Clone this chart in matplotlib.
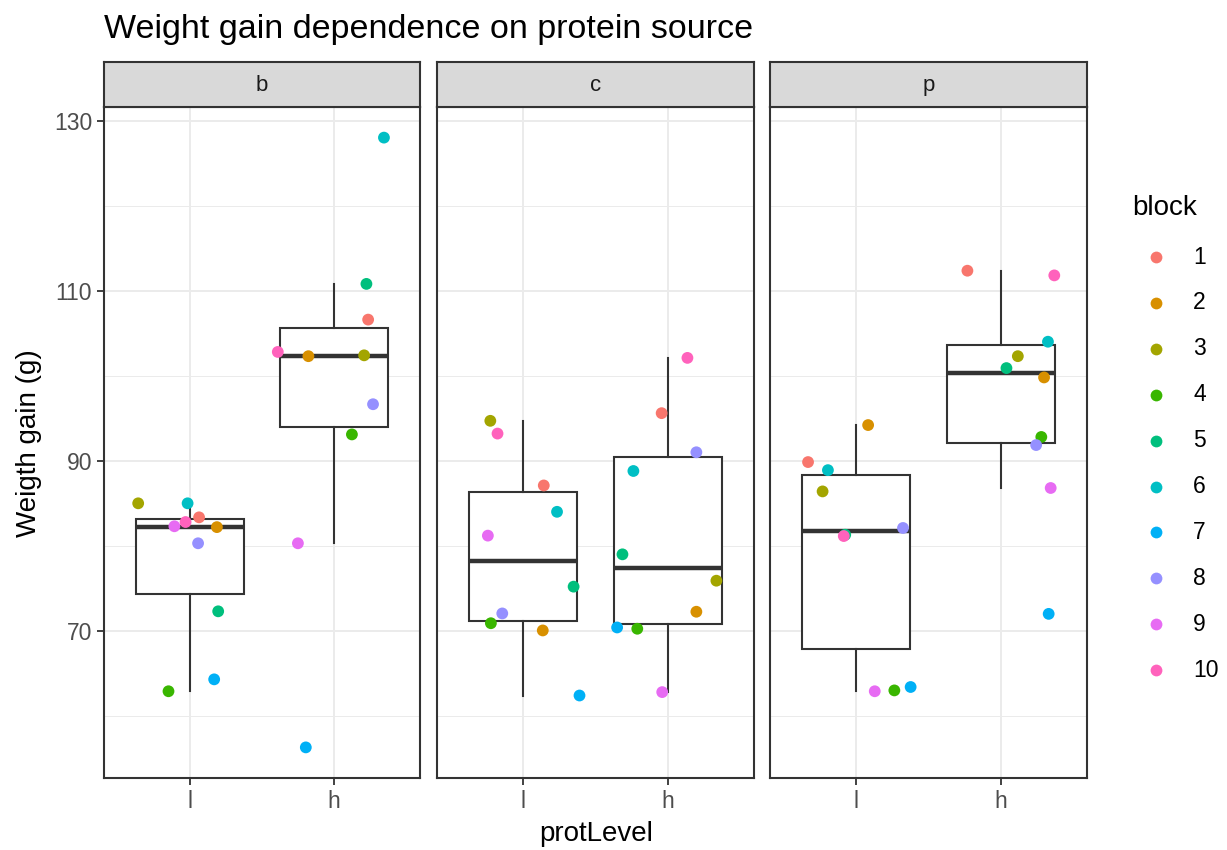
import matplotlib
matplotlib.use('Agg')
import matplotlib.pyplot as plt
import numpy as np

plt.rcParams['font.family'] = ['Liberation Sans', 'DejaVu Sans']

# data, blocks 1..10 in order
sources = ['b', 'c', 'p']
levels = ['l', 'h']
blocks = [str(i) for i in range(1, 11)]
block_colors = ['#F8766D', '#D89000', '#A3A500', '#39B600', '#00BF7D',
                '#00BFC4', '#00B0F6', '#9590FF', '#E76BF3', '#FF62BC']

gain = {
    ('b', 'l'): [83.35, 82.2, 85.0, 62.9, 72.3, 85.0, 64.3, 80.3, 82.3, 82.8],
    ('b', 'h'): [106.6, 102.3, 102.4, 93.1, 110.8, 128.0, 56.3, 96.65, 80.3, 102.8],
    ('c', 'l'): [87.1, 70.05, 94.7, 70.9, 75.2, 84.0, 62.4, 72.05, 81.2, 93.2],
    ('c', 'h'): [95.6, 72.25, 75.9, 70.25, 79.0, 88.8, 70.4, 91.0, 62.8, 102.1],
    ('p', 'l'): [89.85, 94.2, 86.4, 63.0, 81.3, 88.9, 63.4, 82.1, 62.9, 81.15],
    ('p', 'h'): [112.35, 99.8, 102.3, 92.8, 100.9, 104.0, 72.0, 91.85, 86.8, 111.8],
}
# horizontal jitter of each point (as drawn)
jitter = {
    ('b', 'l'): [0.062, 0.186, -0.362, -0.151, 0.195, -0.018, 0.167, 0.055, -0.110, -0.032],
    ('b', 'h'): [0.239, -0.177, 0.211, 0.126, 0.227, 0.349, -0.195, 0.273, -0.250, -0.390],
    ('c', 'l'): [0.141, 0.134, -0.230, -0.226, 0.348, 0.233, 0.389, -0.147, -0.247, -0.180],
    ('c', 'h'): [-0.041, 0.200, 0.339, -0.210, -0.313, -0.237, -0.350, 0.200, -0.037, 0.138],
    ('p', 'l'): [-0.336, 0.081, -0.235, 0.263, -0.078, -0.198, 0.376, 0.323, 0.127, -0.088],
    ('p', 'h'): [-0.230, 0.302, 0.120, 0.283, 0.041, 0.329, 0.334, 0.247, 0.348, 0.373],
}

W, H = 1227, 850
fig = plt.figure(figsize=(W / 100, H / 100), dpi=100)


def frac(x0, y0, x1, y1):
    # pixel box (from top left) -> figure fractions
    return [x0 / W, 1 - y1 / H, (x1 - x0) / W, (y1 - y0) / H]


panel_x = [(104, 420), (437, 754), (770, 1087)]
top, bottom, strip_top = 107, 778, 62
dark = '#333333'

for k, src in enumerate(sources):
    x0, x1 = panel_x[k]
    ax = fig.add_axes(frac(x0, top, x1, bottom))
    ax.set_xlim(0.4, 2.6)
    ax.set_ylim(52.7, 131.6)
    for v in [60, 80, 100, 120]:
        ax.axhline(v, color='#EBEBEB', lw=0.7, zorder=0)
    for v in [70, 90, 110, 130]:
        ax.axhline(v, color='#EBEBEB', lw=1.4, zorder=0)
    for v in [1, 2]:
        ax.axvline(v, color='#EBEBEB', lw=1.4, zorder=0)

    data = [gain[(src, lv)] for lv in levels]
    ax.boxplot(data, positions=[1, 2], widths=0.75, whis=1.5, showfliers=False,
               showcaps=False, patch_artist=True,
               boxprops=dict(facecolor='white', edgecolor=dark, lw=1.5),
               whiskerprops=dict(color=dark, lw=1.5),
               medianprops=dict(color=dark, lw=3.2), zorder=2)

    for i, lv in enumerate(levels):
        xs = np.array(jitter[(src, lv)]) + i + 1
        ax.scatter(xs, gain[(src, lv)], c=block_colors, s=72, zorder=3,
                   linewidths=0)

    ax.set_xticks([1, 2])
    ax.set_xticklabels(levels)
    ax.set_yticks([70, 90, 110, 130])
    if k > 0:
        ax.tick_params(axis='y', left=False, labelleft=False)
    ax.tick_params(colors=dark, labelcolor='#4D4D4D', labelsize=16.5,
                   length=5, width=1.3, pad=3.5)
    for s in ax.spines.values():
        s.set_color(dark)
        s.set_linewidth(1.5)

    sax = fig.add_axes(frac(x0, strip_top, x1, top))
    sax.set_facecolor('#D9D9D9')
    sax.set_xticks([])
    sax.set_yticks([])
    for s in sax.spines.values():
        s.set_color(dark)
        s.set_linewidth(1.5)
    sax.text(0.5, 0.47, src, ha='center', va='center', fontsize=16,
             color='#1A1A1A', transform=sax.transAxes)

fig.text(104 / W, 1 - 38 / H, 'Weight gain dependence on protein source',
         fontsize=24.5, va='baseline', ha='left', color='black')
fig.text(596 / W, 1 - 834 / H, 'protLevel', fontsize=20, ha='center',
         va='center')
fig.text(29 / W, 1 - 443 / H, 'Weigth gain (g)', fontsize=20, ha='center',
         va='center', rotation=90)

# legend drawn in its own axes, in pixel units
lax = fig.add_axes(frac(1100, 170, W, 700))
lax.set_xlim(1100, W)
lax.set_ylim(700, 170)
lax.axis('off')
lax.text(1132, 208, 'block', fontsize=20, ha='left', va='center')
for i, (b, c) in enumerate(zip(blocks, block_colors)):
    y = 257 + i * 45.9
    lax.scatter([1156], [y], s=72, color=c, linewidths=0)
    lax.text(1193, y, b, fontsize=16.5, ha='left', va='center')

fig.savefig('out.png', dpi=100)
